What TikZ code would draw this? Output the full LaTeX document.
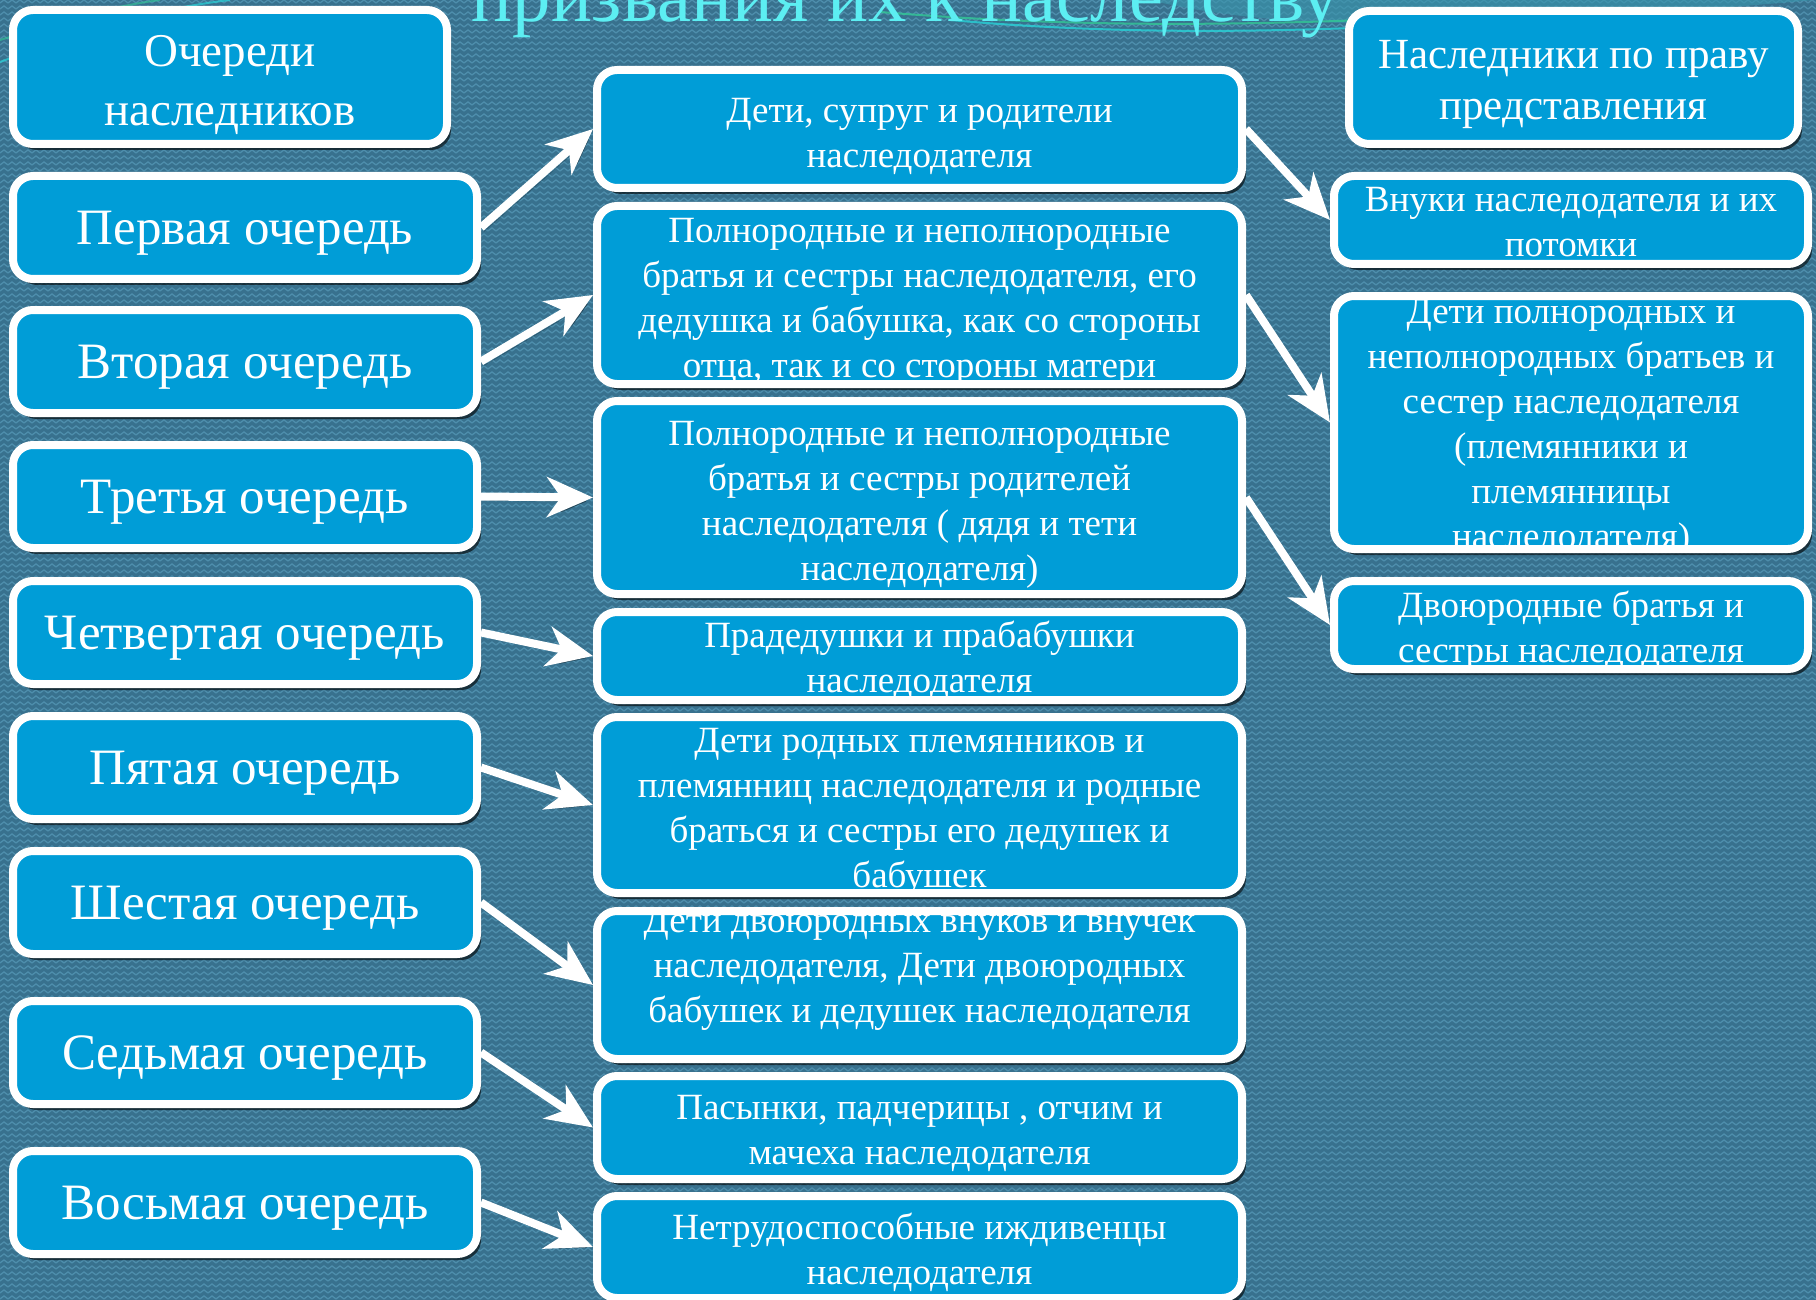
\documentclass[tikz,border=0pt]{standalone}
\usepackage{fontspec}
\setmainfont{Liberation Serif}
\usetikzlibrary{arrows.meta,shadows,patterns}
\definecolor{bg}{RGB}{56,113,142}
\definecolor{bglight}{RGB}{78,142,172}
\definecolor{bgband}{RGB}{58,150,172}
\definecolor{boxfill}{RGB}{0,157,215}
\definecolor{titlecyan}{RGB}{92,238,242}
\definecolor{wavecyan}{RGB}{40,210,215}
\definecolor{wavegreen}{RGB}{50,200,150}
\pgfdeclarepatternformonly{zigzagbg}{\pgfqpoint{-1pt}{-1pt}}{\pgfqpoint{9pt}{7pt}}{\pgfqpoint{8pt}{6pt}}{%
  \pgfsetlinewidth{1.3pt}%
  \pgfpathmoveto{\pgfqpoint{0pt}{1pt}}%
  \pgfpathlineto{\pgfqpoint{4pt}{4pt}}%
  \pgfpathlineto{\pgfqpoint{8pt}{1pt}}%
  \pgfusepath{stroke}%
}
\tikzset{
  qbox/.style={draw=white, line width=8pt, fill=boxfill, rounded corners=20pt,
    inner sep=0pt, drop shadow={shadow xshift=4pt, shadow yshift=-6pt, opacity=0.6, fill=black}},
  lbltext/.style={text=white, align=center, font=\fontsize{51}{58}\selectfont},
  hdrtext/.style={text=white, align=center, font=\fontsize{47}{59}\selectfont},
  rhdrtext/.style={text=white, align=center, font=\fontsize{43}{51}\selectfont},
  midtext/.style={text=white, align=center, font=\fontsize{37}{45}\selectfont},
  arr/.style={draw=white, line width=8pt, -{Stealth[length=46pt,width=40pt,inset=14pt]},
    preaction={draw=black, opacity=0.3, transform canvas={shift={(3pt,-4pt)}}}},
  wave/.style={line width=2pt}
}
% name, cx, cy, w, h, text style, yshift, text
\newcommand{\qbox}[8]{%
  \node[qbox, minimum width=#4pt, minimum height=#5pt,
    path picture={\node[#6] at ([yshift=#7pt]path picture bounding box.center) {#8};}]
    (#1) at (#2,#3) {};}
\begin{document}
\begin{tikzpicture}[x=1pt, y=-1pt]
\useasboundingbox (0,0) rectangle (1816,1300);
\clip (0,0) rectangle (1816,1300);
\fill[bg] (0,0) rectangle (1816,1300);
\fill[pattern=zigzagbg, pattern color=bglight] (0,0) rectangle (1816,1300);
% top decoration
\fill[bgband, opacity=0.6] (1150,0) .. controls (1250,25) and (1400,30) .. (1600,18) -- (1816,0) -- cycle;
\draw[wave, wavegreen, opacity=0.8] (880,12) .. controls (1100,30) and (1300,26) .. (1560,10);
\draw[wave, wavecyan, opacity=0.8] (950,20) .. controls (1150,38) and (1350,32) .. (1600,14);
\draw[wave, wavecyan, opacity=0.7] (0,62) .. controls (60,40) and (130,12) .. (230,0);
\draw[wave, wavegreen, opacity=0.6] (0,40) .. controls (50,25) and (100,8) .. (160,0);
\node[text=titlecyan, font=\fontsize{76.5}{80}\selectfont, anchor=base] (title) at (906,22) {призвания их к наследству};

% left column
\qbox{lh}{230}{77}{434}{134}{hdrtext}{-8}{Очереди\\наследников}
\qbox{l1}{245}{227.5}{464}{103}{lbltext}{-6}{Первая очередь}
\qbox{l2}{245}{361.5}{464}{103}{lbltext}{-6}{Вторая очередь}
\qbox{l3}{245}{496.5}{464}{103}{lbltext}{-6}{Третья очередь}
\qbox{l4}{245}{632.5}{464}{103}{lbltext}{-6}{Четвертая очередь}
\qbox{l5}{245}{767.5}{464}{103}{lbltext}{-6}{Пятая очередь}
\qbox{l6}{245}{902.5}{464}{103}{lbltext}{-6}{Шестая очередь}
\qbox{l7}{245}{1052.5}{464}{103}{lbltext}{-6}{Седьмая очередь}
\qbox{l8}{245}{1202.5}{464}{103}{lbltext}{-6}{Восьмая очередь}

% middle column
\qbox{m1}{919.5}{129}{645}{118}{midtext}{-7.5}{Дети, супруг и родители\\наследодателя}
\qbox{m2}{919.5}{295}{645}{178}{midtext}{-6.5}{Полнородные и неполнородные\\братья и сестры наследодателя, его\\дедушка и бабушка, как со стороны\\отца, так и со стороны матери}
\qbox{m3}{919.5}{497.5}{645}{193}{midtext}{-7}{Полнородные и неполнородные\\братья и сестры родителей\\наследодателя ( дядя и тети\\наследодателя)}
\qbox{m4}{919.5}{656}{645}{88}{midtext}{-4}{Прадедушки и прабабушки\\наследодателя}
\qbox{m5}{919.5}{805}{645}{176}{midtext}{-6.5}{Дети родных племянников и\\племянниц наследодателя и родные\\браться и сестры его дедушек и\\бабушек}
\qbox{m6}{919.5}{985}{645}{148}{midtext}{16}{Дети двоюродных внуков и внучек\\наследодателя, Дети двоюродных\\бабушек и дедушек наследодателя}
\qbox{m7}{919.5}{1127.5}{645}{103}{midtext}{-6}{Пасынки, падчерицы , отчим и\\мачеха наследодателя}
\qbox{m8}{919.5}{1247}{645}{102}{midtext}{-5.5}{Нетрудоспособные иждивенцы\\наследодателя}

% right column
\qbox{rh}{1573.5}{77.5}{449}{133}{rhdrtext}{-7}{Наследники по праву\\представления}
\qbox{r1}{1571}{220}{474}{88}{midtext}{-2}{Внуки наследодателя и их\\потомки}
\qbox{r2}{1571}{422.5}{474}{253}{midtext}{-5.5}{Дети полнородных и\\неполнородных братьев и\\сестер наследодателя\\(племянники и\\племянницы\\наследодателя)}
\qbox{r3}{1571}{625}{474}{88}{midtext}{-6}{Двоюродные братья и\\сестры наследодателя}

% connectors
\draw[arr] (l1.east) -- (m1.west);
\draw[arr] (l2.east) -- (m2.west);
\draw[arr] (l3.east) -- (m3.west);
\draw[arr] (l4.east) -- (m4.west);
\draw[arr] (l5.east) -- (m5.west);
\draw[arr] (l6.east) -- (m6.west);
\draw[arr] (l7.east) -- (m7.west);
\draw[arr] (l8.east) -- (m8.west);
\draw[arr] (m1.east) -- (r1.west);
\draw[arr] (m2.east) -- (r2.west);
\draw[arr] (m3.east) -- (r3.west);
\end{tikzpicture}
\end{document}
